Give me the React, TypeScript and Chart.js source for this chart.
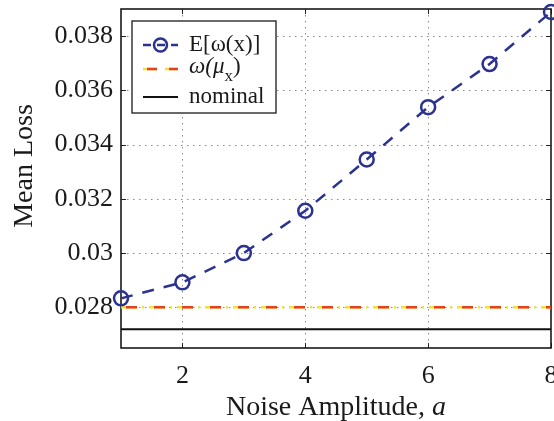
import React, { useEffect, useRef } from "react";
import { Chart, registerables } from "chart.js";

Chart.register(...registerables);

const noiseAmplitude = [1, 2, 3, 4, 5, 6, 7, 8];
const expectedLoss = [0.02833, 0.02892, 0.03, 0.03156, 0.03345, 0.03538, 0.03697, 0.03889];
const lossAtMean = [0.028, 0.028, 0.028, 0.028, 0.028, 0.028, 0.028, 0.028];
const nominalLoss = [0.02719, 0.02719, 0.02719, 0.02719, 0.02719, 0.02719, 0.02719, 0.02719];
const xTicks = [2, 4, 6, 8];
const yTicks = [0.028, 0.03, 0.032, 0.034, 0.036, 0.038];
const xRange = [1, 8];
const yRange = [0.0265, 0.039];

const NAVY = "#2b3290";
const RED = "#e8401f";
const YELLOW = "#f0e23c";
const FONT = "'Liberation Serif', 'DejaVu Serif', serif";

const toPoints = (ys: number[]) => noiseAmplitude.map((x, i) => ({ x, y: ys[i] }));

const zeroPad = (s: any) => {
  s.paddingLeft = 0;
  s.paddingRight = 0;
  s.paddingTop = 0;
  s.paddingBottom = 0;
};

const framePlugin = {
  id: "matlabFrame",
  beforeDatasetsDraw(chart: any) {
    const { ctx, chartArea, scales } = chart;
    const { left, right, top, bottom } = chartArea;
    const x = scales.x;
    const y = scales.y;
    ctx.save();
    // dotted grid
    ctx.strokeStyle = "#8a8a8a";
    ctx.lineWidth = 1;
    ctx.setLineDash([1.5, 4.5]);
    xTicks.forEach((v) => {
      const px = Math.round(x.getPixelForValue(v)) + 0.5;
      if (px < right - 2 && px > left + 2) {
        ctx.beginPath();
        ctx.moveTo(px, top);
        ctx.lineTo(px, bottom);
        ctx.stroke();
      }
    });
    yTicks.forEach((v) => {
      const py = Math.round(y.getPixelForValue(v)) + 0.5;
      ctx.beginPath();
      ctx.moveTo(left, py);
      ctx.lineTo(right, py);
      ctx.stroke();
    });
    ctx.setLineDash([]);
    // inward ticks
    ctx.strokeStyle = "#222";
    ctx.lineWidth = 1;
    const tl = 5;
    xTicks.forEach((v) => {
      const px = Math.round(x.getPixelForValue(v)) + 0.5;
      ctx.beginPath();
      ctx.moveTo(px, bottom);
      ctx.lineTo(px, bottom - tl);
      ctx.moveTo(px, top);
      ctx.lineTo(px, top + tl);
      ctx.stroke();
    });
    yTicks.forEach((v) => {
      const py = Math.round(y.getPixelForValue(v)) + 0.5;
      ctx.beginPath();
      ctx.moveTo(left, py);
      ctx.lineTo(left + tl, py);
      ctx.moveTo(right, py);
      ctx.lineTo(right - tl, py);
      ctx.stroke();
    });
    // frame
    ctx.strokeStyle = "#1a1a1a";
    ctx.lineWidth = 1.6;
    ctx.strokeRect(left, top, right - left, bottom - top);
    ctx.restore();
  },
  afterDraw(chart: any) {
    const { ctx, chartArea, height } = chart;
    const { left, right, top } = chartArea;
    ctx.save();
    ctx.fillStyle = "#1a1a1a";
    // x title
    ctx.textBaseline = "middle";
    const cx = (left + right) / 2;
    const ty = height - 13;
    const main = "Noise Amplitude, ";
    ctx.font = `28px ${FONT}`;
    const w1 = ctx.measureText(main).width;
    ctx.font = `italic 28px ${FONT}`;
    const w2 = ctx.measureText("a").width;
    const sx = cx - (w1 + w2) / 2;
    ctx.font = `28px ${FONT}`;
    ctx.textAlign = "left";
    ctx.fillText(main, sx, ty);
    ctx.font = `italic 28px ${FONT}`;
    ctx.fillText("a", sx + w1, ty);
    // y title
    ctx.save();
    ctx.translate(25, 166);
    ctx.rotate(-Math.PI / 2);
    ctx.font = `28px ${FONT}`;
    ctx.textAlign = "center";
    ctx.fillText("Mean Loss", 0, 0);
    ctx.restore();

    // legend
    const bx = left + 11;
    const by = top + 12;
    const bw = 144;
    const bh = 92;
    ctx.fillStyle = "#ffffff";
    ctx.fillRect(bx, by, bw, bh);
    ctx.strokeStyle = "#1a1a1a";
    ctx.lineWidth = 1.3;
    ctx.strokeRect(bx, by, bw, bh);
    const lx0 = bx + 11;
    const lx1 = bx + 46;
    const tx = bx + 57;
    const r1 = by + 24;
    const r2 = by + 46;
    const r3 = by + 76;
    // row 1
    ctx.strokeStyle = NAVY;
    ctx.lineWidth = 2.5;
    ctx.setLineDash([8, 6]);
    ctx.beginPath();
    ctx.moveTo(lx0, r1);
    ctx.lineTo(lx1, r1);
    ctx.stroke();
    ctx.setLineDash([]);
    ctx.beginPath();
    ctx.arc((lx0 + lx1) / 2, r1, 6.5, 0, Math.PI * 2);
    ctx.stroke();
    // row 2
    ctx.lineWidth = 2.5;
    ctx.strokeStyle = YELLOW;
    ctx.setLineDash([14, 8]);
    ctx.beginPath();
    ctx.moveTo(lx0, r2 + 2);
    ctx.lineTo(lx1, r2 + 2);
    ctx.stroke();
    ctx.strokeStyle = RED;
    ctx.setLineDash([10, 12]);
    ctx.lineDashOffset = -4;
    ctx.beginPath();
    ctx.moveTo(lx0, r2 + 2);
    ctx.lineTo(lx1, r2 + 2);
    ctx.stroke();
    ctx.lineDashOffset = 0;
    ctx.setLineDash([]);
    // row 3
    ctx.strokeStyle = "#111";
    ctx.lineWidth = 2;
    ctx.beginPath();
    ctx.moveTo(lx0, r3);
    ctx.lineTo(lx1, r3);
    ctx.stroke();
    // texts
    ctx.fillStyle = "#1a1a1a";
    ctx.textAlign = "left";
    ctx.textBaseline = "middle";
    ctx.font = `23px ${FONT}`;
    ctx.fillText("E[ω(x)]", tx, r1);
    ctx.font = `italic 23px ${FONT}`;
    const p1 = "ω(μ";
    ctx.fillText(p1, tx, r2);
    const pw = ctx.measureText(p1).width;
    ctx.font = `17px ${FONT}`;
    ctx.fillText("x", tx + pw, r2 + 10);
    const xw = ctx.measureText("x").width;
    ctx.font = `23px ${FONT}`;
    ctx.fillText(")", tx + pw + xw, r2);
    ctx.fillText("nominal", tx, r3);
    ctx.restore();
  },
};

export default function App() {
  const ref = useRef<HTMLCanvasElement | null>(null);
  useEffect(() => {
    if (!ref.current) return;
    const chart = new Chart(ref.current, {
      type: "line",
      data: {
        datasets: [
          {
            label: "E[ω(x)]",
            data: toPoints(expectedLoss),
            borderColor: NAVY,
            borderWidth: 2.5,
            borderDash: [12, 10],
            pointRadius: 7,
            pointBorderWidth: 2.5,
            pointBorderColor: NAVY,
            pointBackgroundColor: "rgba(0,0,0,0)",
            pointStyle: "circle",
            tension: 0,
            clip: false as any,
          },
          {
            label: "ω(μx)",
            data: toPoints(lossAtMean),
            borderColor: RED,
            borderWidth: 2.5,
            borderDash: [11, 17],
            borderDashOffset: -5,
            pointRadius: 0,
            tension: 0,
          },
          {
            label: "ω(μx) yellow",
            data: toPoints(lossAtMean),
            borderColor: YELLOW,
            borderWidth: 2.5,
            borderDash: [16, 5, 2, 5],
            pointRadius: 0,
            tension: 0,
          },
          {
            label: "nominal",
            data: toPoints(nominalLoss),
            borderColor: "#111111",
            borderWidth: 2,
            pointRadius: 0,
            tension: 0,
          },
        ],
      },
      options: {
        animation: false,
        responsive: false,
        maintainAspectRatio: false,
        layout: { autoPadding: false, padding: { top: 9, right: 3, left: 0, bottom: 0 } },
        plugins: {
          legend: { display: false },
          tooltip: { enabled: false },
          title: { display: false },
        },
        scales: {
          x: {
            type: "linear",
            min: xRange[0],
            max: xRange[1],
            grid: { display: false, drawTicks: false },
            border: { display: false },
            afterBuildTicks: (s: any) => {
              s.ticks = xTicks.map((v) => ({ value: v }));
            },
            afterFit: (s: any) => {
              s.height = 73;
              zeroPad(s);
            },
            ticks: {
              padding: 13,
              color: "#1a1a1a",
              font: { family: FONT, size: 26 },
              maxRotation: 0,
              autoSkip: false,
              callback: (v: any) => String(v),
            },
          },
          y: {
            type: "linear",
            min: yRange[0],
            max: yRange[1],
            grid: { display: false, drawTicks: false },
            border: { display: false },
            afterBuildTicks: (s: any) => {
              s.ticks = yTicks.map((v) => ({ value: v }));
            },
            afterFit: (s: any) => {
              s.width = 121;
              zeroPad(s);
            },
            ticks: {
              padding: 8,
              color: "#1a1a1a",
              font: { family: FONT, size: 26 },
              autoSkip: false,
              callback: (v: any) => String(Number(Number(v).toFixed(3))),
            },
          },
        },
      },
      plugins: [framePlugin],
    });
    return () => chart.destroy();
  }, []);
  return (
    <div style={{ position: "fixed", left: 0, top: 0, width: 554, height: 421, background: "#fff" }}>
      <canvas ref={ref} width={554} height={421} style={{ width: 554, height: 421 }} />
    </div>
  );
}
